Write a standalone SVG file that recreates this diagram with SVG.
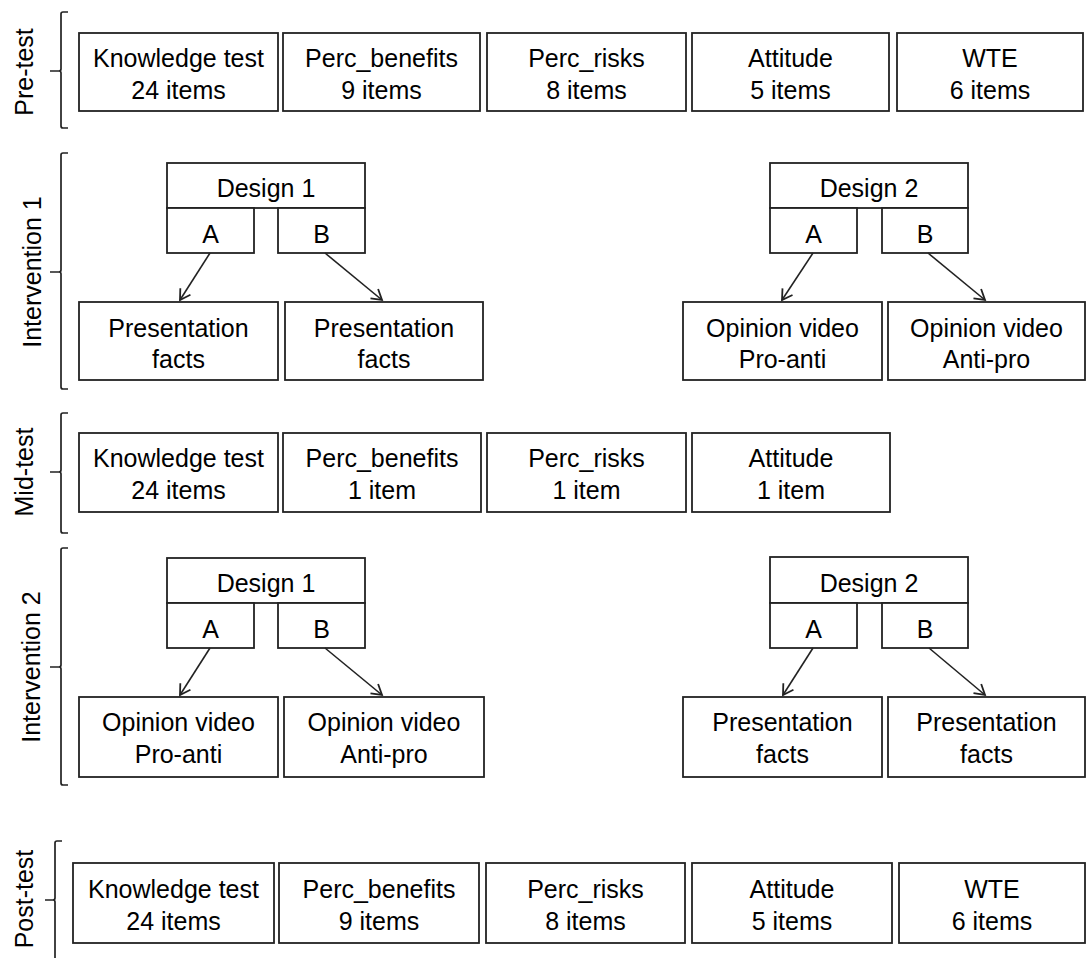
<svg xmlns="http://www.w3.org/2000/svg" width="1086" height="958" viewBox="0 0 1086 958">
<defs>
<style>
.b{fill:#fff;stroke:#222;stroke-width:1.8}
.t{font-family:"Liberation Sans",Arial,sans-serif;font-size:25px;fill:#000;text-anchor:middle}
.br{fill:none;stroke:#222;stroke-width:1.7}
.c{fill:none;stroke:#222;stroke-width:1.6}
</style>
<marker id="ah" markerWidth="16" markerHeight="16" refX="12" refY="7.5" orient="auto" markerUnits="userSpaceOnUse">
<path d="M2,1.5 L12,7.5 L2,13.5" fill="none" stroke="#222" stroke-width="1.8"/>
</marker>
</defs>
<rect width="1086" height="958" fill="#fff"/>

<!-- Brackets and stage labels -->
<g id="stage-pre">
<path class="br" d="M68,12 H63 Q61,12 61,14 V69 Q61,71 59,71 H50 M59,71 Q61,71 61,73 V126 Q61,128 63,128 H68"/>
<text class="t" transform="translate(33,72) rotate(-90)">Pre-test</text>
</g>
<g id="stage-int1">
<path class="br" d="M68,153 H63 Q61,153 61,155 V270 Q61,272 59,272 H50 M59,272 Q61,272 61,274 V387 Q61,389 63,389 H68"/>
<text class="t" transform="translate(41,272) rotate(-90)">Intervention 1</text>
</g>
<g id="stage-mid">
<path class="br" d="M68,413 H63 Q61,413 61,415 V470 Q61,472 59,472 H50 M59,472 Q61,472 61,474 V531 Q61,533 63,533 H68"/>
<text class="t" transform="translate(33,472) rotate(-90)">Mid-test</text>
</g>
<g id="stage-int2">
<path class="br" d="M68,548 H63 Q61,548 61,550 V665 Q61,667 59,667 H50 M59,667 Q61,667 61,669 V783 Q61,785 63,785 H68"/>
<text class="t" transform="translate(40,667) rotate(-90)">Intervention 2</text>
</g>
<g id="stage-post">
<path class="br" d="M62,841 H57 Q55,841 55,843 V898 Q55,900 53,900 H45 M53,900 Q55,900 55,902 V958"/>
<text class="t" transform="translate(33,899) rotate(-90)">Post-test</text>
</g>

<!-- Pre-test -->
<g id="pre-knowledge"><rect class="b" x="79" y="33" width="199" height="78"/><text class="t" x="178.5" y="67">Knowledge test</text><text class="t" x="178.5" y="99">24 items</text></g>
<g id="pre-benefits"><rect class="b" x="283" y="33" width="197" height="78"/><text class="t" x="381.5" y="67">Perc_benefits</text><text class="t" x="381.5" y="99">9 items</text></g>
<g id="pre-risks"><rect class="b" x="487" y="33" width="199" height="78"/><text class="t" x="586.5" y="67">Perc_risks</text><text class="t" x="586.5" y="99">8 items</text></g>
<g id="pre-attitude"><rect class="b" x="692" y="33" width="197" height="78"/><text class="t" x="790.5" y="67">Attitude</text><text class="t" x="790.5" y="99">5 items</text></g>
<g id="pre-wte"><rect class="b" x="897" y="33" width="186" height="78"/><text class="t" x="990" y="67">WTE</text><text class="t" x="990" y="99">6 items</text></g>

<!-- Intervention 1 -->
<g id="i1-design1"><rect class="b" x="167" y="163" width="198" height="45"/><text class="t" x="266" y="197">Design 1</text></g>
<g id="i1-d1-a"><rect class="b" x="167" y="208" width="87" height="45"/><text class="t" x="210.5" y="243">A</text></g>
<g id="i1-d1-b"><rect class="b" x="278" y="208" width="87" height="45"/><text class="t" x="321.5" y="243">B</text></g>
<g id="i1-d1-pa"><rect class="b" x="79" y="302" width="199" height="78"/><text class="t" x="178.5" y="337">Presentation</text><text class="t" x="178.5" y="368">facts</text></g>
<g id="i1-d1-pb"><rect class="b" x="285" y="302" width="198" height="78"/><text class="t" x="384" y="337">Presentation</text><text class="t" x="384" y="368">facts</text></g>

<g id="i1-design2"><rect class="b" x="770" y="163" width="198" height="45"/><text class="t" x="869" y="197">Design 2</text></g>
<g id="i1-d2-a"><rect class="b" x="770" y="208" width="87" height="45"/><text class="t" x="813.5" y="243">A</text></g>
<g id="i1-d2-b"><rect class="b" x="882" y="208" width="86" height="45"/><text class="t" x="925" y="243">B</text></g>
<g id="i1-d2-va"><rect class="b" x="683" y="302" width="199" height="78"/><text class="t" x="782.5" y="337">Opinion video</text><text class="t" x="782.5" y="368">Pro-anti</text></g>
<g id="i1-d2-vb"><rect class="b" x="888" y="302" width="197" height="78"/><text class="t" x="986.5" y="337">Opinion video</text><text class="t" x="986.5" y="368">Anti-pro</text></g>

<!-- Mid-test -->
<g id="mid-knowledge"><rect class="b" x="79" y="433" width="199" height="79"/><text class="t" x="178.5" y="467">Knowledge test</text><text class="t" x="178.5" y="499">24 items</text></g>
<g id="mid-benefits"><rect class="b" x="283" y="433" width="198" height="79"/><text class="t" x="382" y="467">Perc_benefits</text><text class="t" x="382" y="499">1 item</text></g>
<g id="mid-risks"><rect class="b" x="487" y="433" width="199" height="79"/><text class="t" x="586.5" y="467">Perc_risks</text><text class="t" x="586.5" y="499">1 item</text></g>
<g id="mid-attitude"><rect class="b" x="692" y="433" width="198" height="79"/><text class="t" x="791" y="467">Attitude</text><text class="t" x="791" y="499">1 item</text></g>

<!-- Intervention 2 -->
<g id="i2-design1"><rect class="b" x="167" y="558" width="198" height="45"/><text class="t" x="266" y="592">Design 1</text></g>
<g id="i2-d1-a"><rect class="b" x="167" y="603" width="87" height="45"/><text class="t" x="210.5" y="638">A</text></g>
<g id="i2-d1-b"><rect class="b" x="278" y="603" width="87" height="45"/><text class="t" x="321.5" y="638">B</text></g>
<g id="i2-d1-va"><rect class="b" x="79" y="697" width="199" height="80"/><text class="t" x="178.5" y="731">Opinion video</text><text class="t" x="178.5" y="763">Pro-anti</text></g>
<g id="i2-d1-vb"><rect class="b" x="284" y="697" width="200" height="80"/><text class="t" x="384" y="731">Opinion video</text><text class="t" x="384" y="763">Anti-pro</text></g>

<g id="i2-design2"><rect class="b" x="770" y="557" width="198" height="46"/><text class="t" x="869" y="592">Design 2</text></g>
<g id="i2-d2-a"><rect class="b" x="770" y="603" width="87" height="45"/><text class="t" x="813.5" y="638">A</text></g>
<g id="i2-d2-b"><rect class="b" x="882" y="603" width="86" height="45"/><text class="t" x="925" y="638">B</text></g>
<g id="i2-d2-pa"><rect class="b" x="683" y="697" width="199" height="80"/><text class="t" x="782.5" y="731">Presentation</text><text class="t" x="782.5" y="763">facts</text></g>
<g id="i2-d2-pb"><rect class="b" x="888" y="697" width="197" height="80"/><text class="t" x="986.5" y="731">Presentation</text><text class="t" x="986.5" y="763">facts</text></g>

<!-- Post-test -->
<g id="post-knowledge"><rect class="b" x="73" y="863" width="201" height="80"/><text class="t" x="173.5" y="898">Knowledge test</text><text class="t" x="173.5" y="930">24 items</text></g>
<g id="post-benefits"><rect class="b" x="279" y="863" width="200" height="80"/><text class="t" x="379" y="898">Perc_benefits</text><text class="t" x="379" y="930">9 items</text></g>
<g id="post-risks"><rect class="b" x="486" y="863" width="199" height="80"/><text class="t" x="585.5" y="898">Perc_risks</text><text class="t" x="585.5" y="930">8 items</text></g>
<g id="post-attitude"><rect class="b" x="692" y="863" width="200" height="80"/><text class="t" x="792" y="898">Attitude</text><text class="t" x="792" y="930">5 items</text></g>
<g id="post-wte"><rect class="b" x="899" y="863" width="186" height="80"/><text class="t" x="992" y="898">WTE</text><text class="t" x="992" y="930">6 items</text></g>

<!-- Connectors -->
<g id="connectors">
<line class="c" x1="210" y1="253" x2="180" y2="300" marker-end="url(#ah)"/>
<line class="c" x1="325" y1="253" x2="382" y2="300" marker-end="url(#ah)"/>
<line class="c" x1="813" y1="253" x2="782" y2="300" marker-end="url(#ah)"/>
<line class="c" x1="928" y1="253" x2="985" y2="300" marker-end="url(#ah)"/>
<line class="c" x1="210" y1="648" x2="180" y2="695" marker-end="url(#ah)"/>
<line class="c" x1="325" y1="648" x2="382" y2="695" marker-end="url(#ah)"/>
<line class="c" x1="813" y1="648" x2="783" y2="695" marker-end="url(#ah)"/>
<line class="c" x1="929" y1="648" x2="985" y2="695" marker-end="url(#ah)"/>
</g>
</svg>
